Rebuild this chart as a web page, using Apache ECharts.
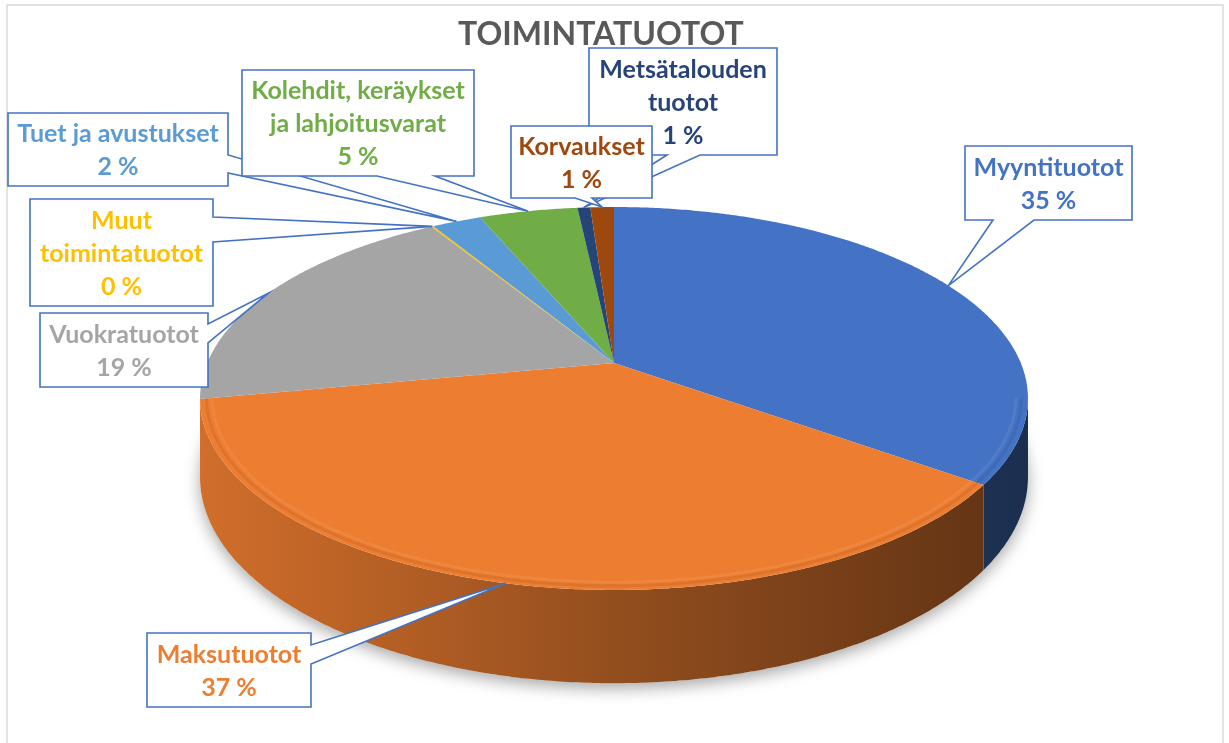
<!DOCTYPE html>
<html>
<head>
<meta charset="utf-8">
<script src="https://cdn.jsdelivr.net/npm/echarts@6/dist/echarts.min.js"></script>
<style>
html,body{margin:0;padding:0;background:#fff}
#c{width:1229px;height:743px}
</style>
</head>
<body>
<div id="c"></div>
<script>
// ---- data ----
const chartTitle = 'TOIMINTATUOTOT';
const categories = ['Myyntituotot', 'Maksutuotot', 'Vuokratuotot', 'Muut toimintatuotot',
  'Tuet ja avustukset', 'Kolehdit, keräykset ja lahjoitusvarat', 'Metsätalouden tuotot', 'Korvaukset'];
const values = [35.0, 37.0, 19.3, 0.1, 2.3, 4.6, 0.6, 1.1];
const labelTexts = ['Myyntituotot', 'Maksutuotot', 'Vuokratuotot', 'Muut\ntoimintatuotot',
  'Tuet ja avustukset', 'Kolehdit, keräykset\nja lahjoitusvarat', 'Metsätalouden\ntuotot', 'Korvaukset'];
const colors = ['#4472C4', '#ED7D31', '#A5A5A5', '#FFC000', '#5B9BD5', '#70AD47', '#264478', '#9E480E'];

// ---- layout (positions / sizes, not data) ----
const PIE = { cx: 614, cy: 363, a: 406.8, b: 184.9, p: 0.1853, depth: 76 };
const callouts = [
  { box: [965, 146, 167, 74], edge: 'bottom', t: [993, 1034] },
  { box: [147, 633, 164, 74], edge: 'right', t: [645, 664] },
  { box: [40, 313, 168, 74], edge: 'right', t: [324, 343] },
  { box: [30, 199, 183, 107], edge: 'right', t: [217, 242] },
  { box: [8, 113, 220, 73], edge: 'right', t: [155, 173] },
  { box: [242, 70, 232, 106], edge: 'bottom', t: [377, 435] },
  { box: [589, 48, 188, 107], edge: 'bottom', t: [667, 700] },
  { box: [511, 126, 141, 72], edge: 'bottom', t: [575, 592] }
];
const FONT = 'bold 25px Lato, "Open Sans", sans-serif';

function hexToRgb(h) {
  const n = parseInt(h.slice(1), 16);
  return [(n >> 16) & 255, (n >> 8) & 255, n & 255];
}
function shade(h, f) {
  const c = hexToRgb(h).map(x => Math.max(0, Math.min(255, Math.round(x * f))));
  return 'rgb(' + c.join(',') + ')';
}
function tint(h, f) {
  const c = hexToRgb(h).map(x => Math.round(x + (255 - x) * f));
  return 'rgb(' + c.join(',') + ')';
}
// perspective projection of a point on the disk (theta clockwise from top)
function proj(theta, r, h) {
  const u = Math.sin(theta) * r, v = Math.cos(theta) * r;
  const w = 1 / (1 + PIE.p * v);
  return [PIE.cx + PIE.a * u * w, PIE.cy - PIE.b * v * w + h * PIE.depth * w];
}
function arc(a0, a1, r, h) {
  const pts = [];
  const n = Math.max(2, Math.ceil((a1 - a0) / (Math.PI / 360)));
  for (let k = 0; k <= n; k++) pts.push(proj(a0 + (a1 - a0) * k / n, r, h));
  return pts;
}

const total = values.reduce((s, v) => s + v, 0);
const thL = Math.acos(-PIE.p);
const thR = 2 * Math.PI - thL;

function renderItem(params, api) {
  const i = params.dataIndex;
  const before = values.slice(0, i).reduce((s, v) => s + v, 0);
  const a0 = before / total * 2 * Math.PI;
  const a1 = (before + values[i]) / total * 2 * Math.PI;
  const col = colors[i];
  const children = [];

  if (i === 0) {
    children.push({
      type: 'polygon', z2: 0,
      shape: { points: arc(0, 2 * Math.PI, 1, 1) },
      style: { fill: '#fff', shadowBlur: 16, shadowColor: 'rgba(0,0,0,0.35)', shadowOffsetY: 5 }
    });
  }
  // side wall (visible front part)
  const s0 = Math.max(a0, thL), s1 = Math.min(a1, thR);
  if (s1 > s0) {
    const top = arc(s0, s1, 1, 0);
    const bot = arc(s0, s1, 1, 1).reverse();
    children.push({
      type: 'polygon', z2: 1,
      shape: { points: top.concat(bot) },
      style: {
        fill: new echarts.graphic.LinearGradient(200, 0, 1030, 0, [
          { offset: 0, color: shade(col, 0.88) },
          { offset: 0.5, color: shade(col, 0.62) },
          { offset: 1, color: shade(col, 0.4) }
        ], true)
      }
    });
    // soft bevel near the front rim
    children.push({
      type: 'polyline', z2: 3,
      shape: { points: arc(s0, s1, 0.985, 0) },
      style: { fill: null, stroke: shade(col, 0.8), lineWidth: 3, opacity: 0.35 }
    });
    children.push({
      type: 'polyline', z2: 3,
      shape: { points: arc(s0, s1, 0.972, 0) },
      style: { fill: null, stroke: tint(col, 0.2), lineWidth: 3, opacity: 0.35 }
    });
  }
  // top face
  children.push({
    type: 'polygon', z2: 2,
    shape: { points: [[PIE.cx, PIE.cy]].concat(arc(a0, a1, 1, 0)) },
    style: { fill: col }
  });

  // callout
  const c = callouts[i];
  const [bx, by, bw, bh] = c.box;
  const tip = proj((a0 + a1) / 2, 1, 0);
  let pts;
  if (c.edge === 'right') {
    pts = [[bx, by], [bx + bw, by], [bx + bw, c.t[0]], tip, [bx + bw, c.t[1]], [bx + bw, by + bh], [bx, by + bh]];
  } else {
    pts = [[bx, by], [bx + bw, by], [bx + bw, by + bh], [c.t[1], by + bh], tip, [c.t[0], by + bh], [bx, by + bh]];
  }
  children.push({
    type: 'polygon', z2: 10 + i,
    shape: { points: pts },
    style: { fill: '#fff', stroke: '#4472C4', lineWidth: 1.6, lineJoin: 'miter' }
  });
  children.push({
    type: 'text', z2: 30 + i,
    style: {
      text: labelTexts[i] + '\n' + Math.round(values[i]) + ' %',
      x: bx + bw / 2, y: by + bh / 2 + 1,
      align: 'center', verticalAlign: 'middle',
      textAlign: 'center', textVerticalAlign: 'middle',
      font: FONT, lineHeight: 33, fill: col
    }
  });
  return { type: 'group', children: children };
}

const chart = echarts.init(document.getElementById('c'), null, { renderer: 'canvas' });
chart.setOption({
  animation: false,
  backgroundColor: '#fff',
  title: {
    text: chartTitle, left: 453, top: 14,
    textStyle: { fontSize: 32, fontWeight: 'bold', color: '#595959', fontFamily: 'Lato, "Open Sans", sans-serif' }
  },
  graphic: [{
    type: 'rect', z: -1,
    shape: { x: 7, y: 5, width: 1216, height: 780 },
    style: { fill: 'none', stroke: '#D9D9D9', lineWidth: 1.5 }
  }],
  series: [{
    type: 'custom',
    coordinateSystem: 'none',
    name: chartTitle,
    data: values.map((v, i) => ({ name: categories[i], value: v })),
    renderItem: renderItem
  }]
});
</script>
</body>
</html>
